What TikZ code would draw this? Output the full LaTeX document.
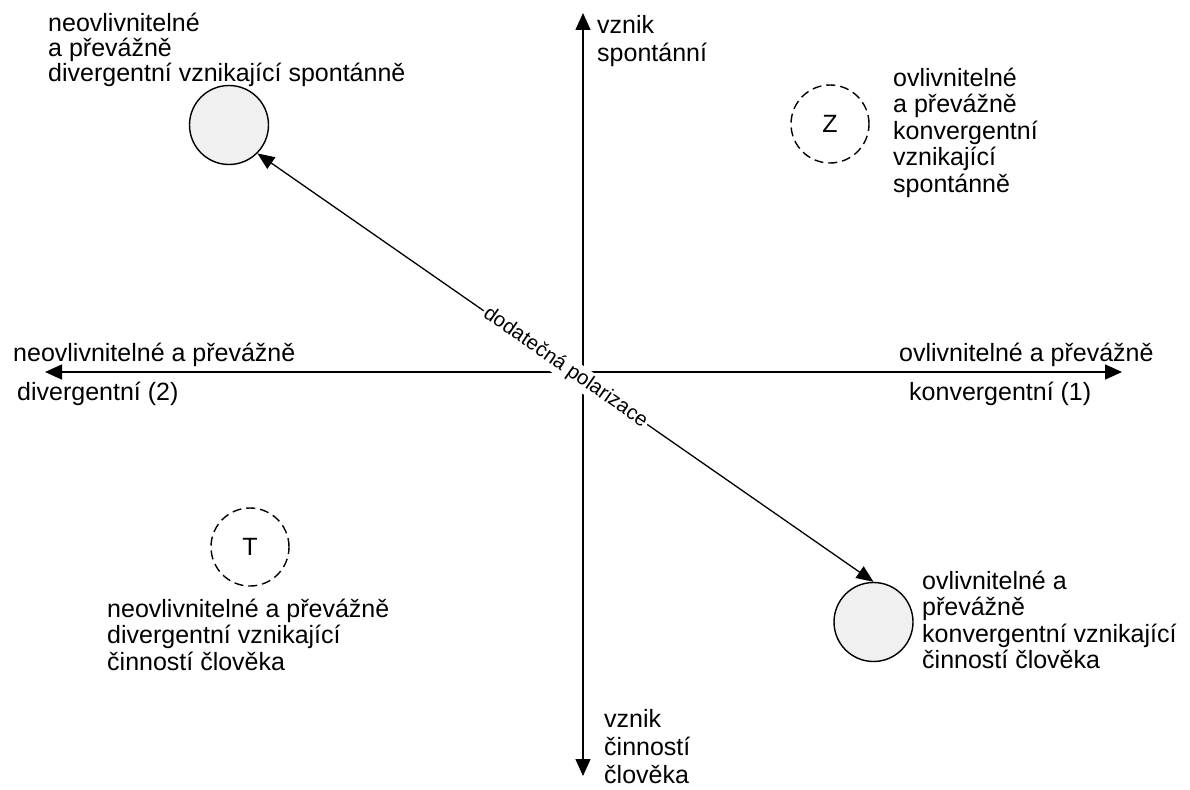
\documentclass[tikz,border=0pt]{standalone}
\usepackage{fontspec}
\setmainfont{Liberation Sans}
\usetikzlibrary{arrows.meta}
\newcommand\mystrut{\rule{0pt}{24pt}}
\definecolor{circfill}{RGB}{240,240,240}
\begin{document}
\begin{tikzpicture}[x=1pt,y=-1pt,
  lbl/.style={anchor=north west, inner sep=0pt, align=left, font=\fontsize{25}{26.5}\selectfont},
  axlbl/.style={anchor=base west, inner sep=0pt, font=\fontsize{25}{26.5}\selectfont},
  axis/.style={line width=1.5pt, {Triangle[length=17pt,width=15pt]}-{Triangle[length=17pt,width=15pt]}},
  diag/.style={line width=1.3pt, {Triangle[length=17pt,width=14pt]}-{Triangle[length=17pt,width=14pt]}},
  solidc/.style={circle, draw, line width=1.4pt, fill=circfill, minimum size=79pt, inner sep=0pt},
  dashc/.style={circle, draw, line width=1.4pt, dash pattern=on 9pt off 5pt, minimum size=78pt, inner sep=0pt, font=\fontsize{25}{26.5}\selectfont},
  dlbl/.style={fill=white, inner sep=2pt, sloped, font=\fontsize{20.5}{24}\selectfont}
]
\useasboundingbox (0,0) rectangle (1190,789);

% axes
\coordinate (top) at (583,13);
\coordinate (bot) at (583,776);
\coordinate (left) at (45,372);
\coordinate (right) at (1122,372);
\draw[axis] (bot) -- (top);
\draw[axis] (left) -- (right);

% circles
\node[solidc] (tl) at (229,125) {};
\node[solidc] (br) at (873.5,622) {};
\node[dashc] (t) at (250,547) {T};
\node[dashc] (z) at (830,124) {Z};

% diagonal arrow with label
\draw[diag] (br.north) -- node[dlbl] {dodatečná polarizace} (tl.-45);

% labels
\node[lbl, font=\fontsize{25}{25}\selectfont] (ltl) at (48,7) {\mystrut neovlivnitelné\\a převážně\\divergentní vznikající spontánně};
\node[lbl, font=\fontsize{25}{28}\selectfont] (lvt) at (597,9) {\mystrut vznik\\spontánní};
\node[lbl] (lz) at (893,62) {\mystrut ovlivnitelné\\a převážně\\konvergentní\\vznikající\\spontánně};
\node[lbl] (lt) at (107,593) {\mystrut neovlivnitelné a převážně\\divergentní vznikající\\činností člověka};
\node[lbl] (lbr) at (922,565) {\mystrut ovlivnitelné a\\převážně\\konvergentní vznikající\\činností člověka};
\node[lbl, font=\fontsize{25}{28}\selectfont] (lvb) at (604,703) {\mystrut vznik\\činností\\člověka};
\node[axlbl] (la1) at (13,361) {neovlivnitelné a převážně};
\node[axlbl] (la2) at (17,400) {divergentní (2)};
\node[axlbl] (ra1) at (899,361) {ovlivnitelné a převážně};
\node[axlbl] (ra2) at (909,400) {konvergentní (1)};
\end{tikzpicture}
\end{document}
